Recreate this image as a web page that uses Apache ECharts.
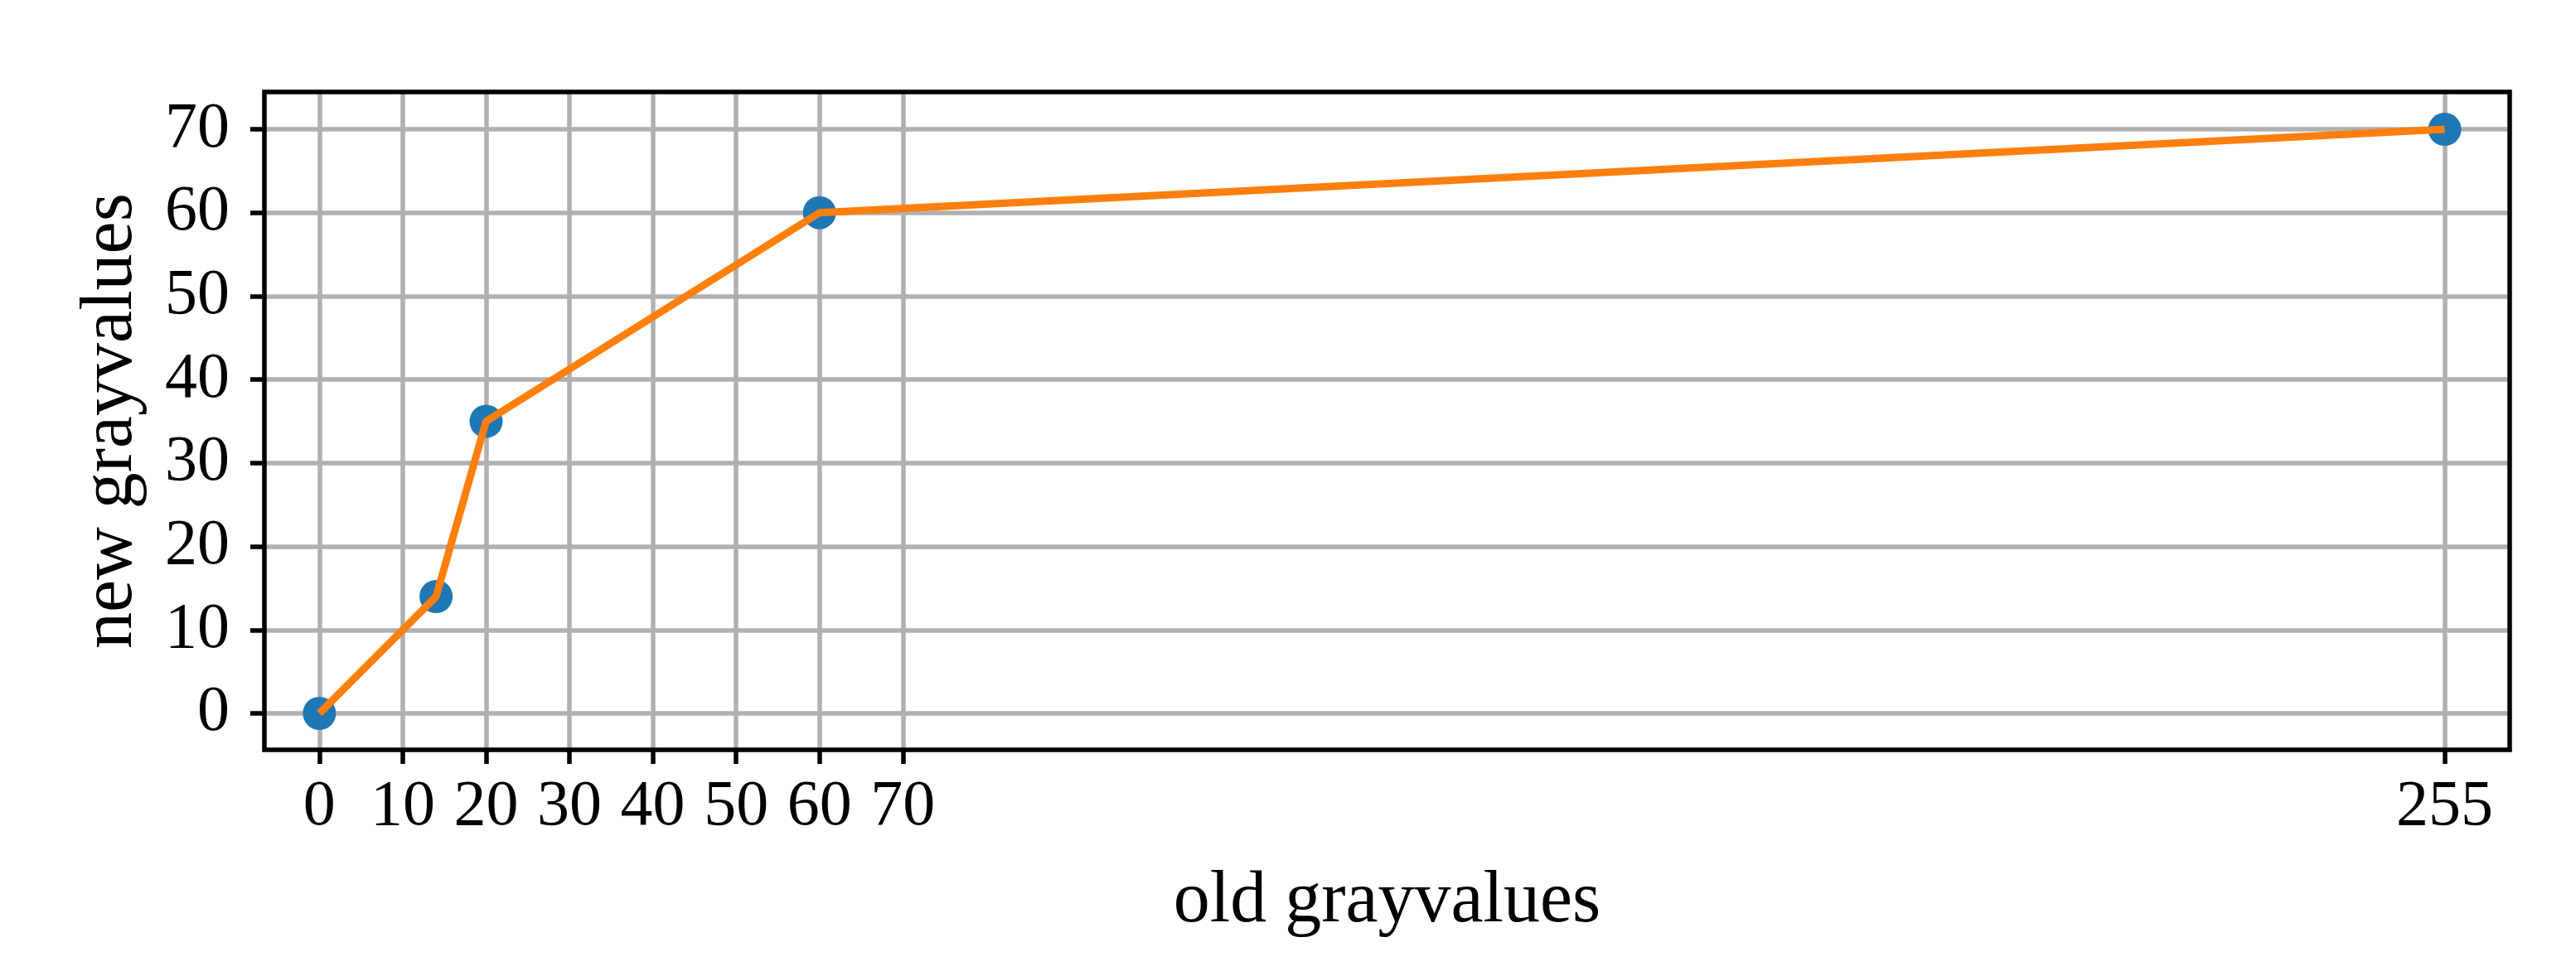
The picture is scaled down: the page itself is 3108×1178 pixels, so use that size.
<!DOCTYPE html>
<html>
<head>
<meta charset="utf-8">
<style>
  html, body { margin: 0; padding: 0; background: #fff; }
  #main { width: 3108px; height: 1178px; }
</style>
<script src="https://cdn.jsdelivr.net/npm/echarts@6/dist/echarts.min.js"></script>
</head>
<body>
<div id="main"></div>
<script>
// gray value mapping points
var oldValues = [0, 14, 20, 60, 255];
var newValues = [0, 14, 35, 60, 70];
var xTicks = [0, 10, 20, 30, 40, 50, 60, 70, 255];
var yTicks = [0, 10, 20, 30, 40, 50, 60, 70];

var points = oldValues.map(function (x, i) { return [x, newValues[i]]; });

var font = '"Liberation Serif", "DejaVu Serif", serif';
var chart = echarts.init(document.getElementById('main'));

chart.setOption({
  animation: false,
  backgroundColor: '#fff',
  grid: {
    left: 319,
    top: 111,
    right: 80,
    bottom: 273,
    show: true,
    z: 5,
    borderColor: '#000',
    borderWidth: 5.5,
    backgroundColor: 'transparent'
  },
  xAxis: {
    type: 'value',
    min: -6.6,
    max: 262.8,
    name: 'old grayvalues',
    nameLocation: 'middle',
    nameGap: 140,
    nameTextStyle: { fontFamily: font, fontSize: 88, color: '#000' },
    axisLine: { show: false, onZero: false },
    axisTick: {
      show: true,
      inside: false,
      length: 17,
      customValues: xTicks,
      lineStyle: { color: '#000', width: 5.5 }
    },
    axisLabel: {
      margin: 31,
      customValues: xTicks,
      fontFamily: font,
      fontSize: 78,
      color: '#000'
    },
    splitLine: { show: true, lineStyle: { color: '#b0b0b0', width: 5.5 } }
  },
  yAxis: {
    type: 'value',
    min: -4.37,
    max: 74.47,
    name: 'new grayvalues',
    nameLocation: 'middle',
    nameGap: 140,
    nameTextStyle: { fontFamily: font, fontSize: 88, color: '#000' },
    axisLine: { show: false, onZero: false },
    axisTick: {
      show: true,
      inside: false,
      length: 17,
      customValues: yTicks,
      lineStyle: { color: '#000', width: 5.5 }
    },
    axisLabel: {
      margin: 42,
      customValues: yTicks,
      fontFamily: font,
      fontSize: 78,
      color: '#000'
    },
    splitLine: { show: true, lineStyle: { color: '#b0b0b0', width: 5.5 } }
  },
  series: [
    {
      type: 'scatter',
      data: points,
      symbolSize: 40,
      itemStyle: { color: '#1f77b4', opacity: 1 },
      z: 2
    },
    {
      type: 'line',
      data: points,
      symbol: 'none',
      lineStyle: { color: '#ff7f0e', width: 9 },
      z: 3
    }
  ]
});
</script>
</body>
</html>
